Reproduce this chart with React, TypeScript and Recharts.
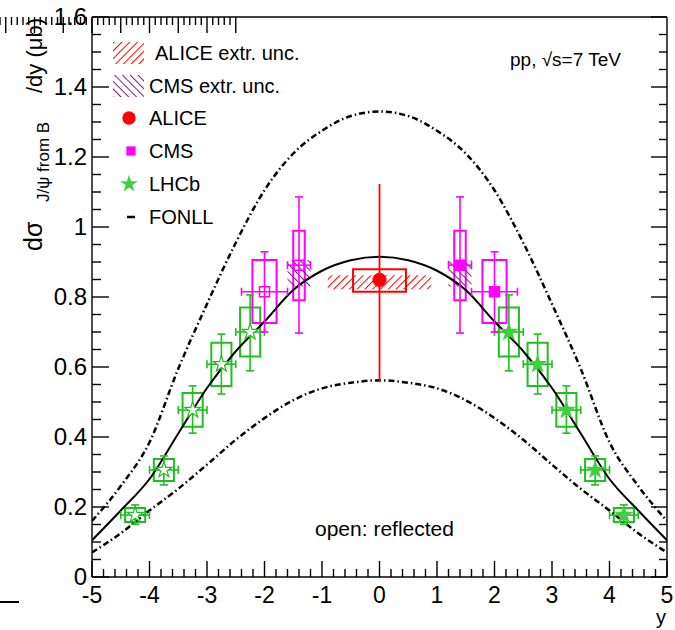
import React from 'react';
import {
  ComposedChart, Line, Scatter, XAxis, YAxis, ErrorBar, ReferenceArea, Customized, Symbols,
} from 'recharts';

const FONT = '"Liberation Sans", Arial, Helvetica, sans-serif';

// ---------- FONLL curves ----------
const fonllRapidity = [-5, -4.5, -4, -3.5, -3, -2.5, -2, -1.5, -1, -0.5, 0, 0.5, 1, 1.5, 2, 2.5, 3, 3.5, 4, 4.5, 5];
const fonllCentral = [0.105, 0.19, 0.28, 0.41, 0.54, 0.645, 0.73, 0.82, 0.875, 0.905, 0.915, 0.905, 0.875, 0.82, 0.73, 0.645, 0.54, 0.41, 0.28, 0.19, 0.105];
const fonllUpper = [0.16, 0.26, 0.385, 0.595, 0.78, 0.955, 1.105, 1.21, 1.275, 1.317, 1.33, 1.317, 1.275, 1.21, 1.105, 0.955, 0.78, 0.595, 0.385, 0.26, 0.16];
const fonllLower = [0.07, 0.125, 0.19, 0.252, 0.321, 0.392, 0.454, 0.505, 0.539, 0.555, 0.562, 0.555, 0.539, 0.505, 0.454, 0.392, 0.321, 0.252, 0.19, 0.125, 0.07];

// ---------- LHCb ----------
const lhcbRapidity = [2.25, 2.75, 3.25, 3.75, 4.25];
const lhcbRapidityReflected = [-2.25, -2.75, -3.25, -3.75, -4.25];
const lhcbValue = [0.70, 0.608, 0.477, 0.306, 0.177];
const lhcbErrLow = [0.589, 0.523, 0.411, 0.263, 0.151];
const lhcbErrHigh = [0.806, 0.694, 0.546, 0.346, 0.206];
const lhcbSysLow = [0.63, 0.546, 0.429, 0.274, 0.157];
const lhcbSysHigh = [0.77, 0.669, 0.526, 0.337, 0.197];
const lhcbBinHalf = [0.25, 0.25, 0.25, 0.25, 0.25];
const lhcbBoxHalf = [0.175, 0.175, 0.175, 0.175, 0.175];

// ---------- CMS ----------
const cmsRapidity = [1.4, 2.0];
const cmsRapidityReflected = [-1.4, -2.0];
const cmsValue = [0.891, 0.815];
const cmsErrLow = [0.697, 0.70];
const cmsErrHigh = [1.086, 0.929];
const cmsSysLow = [0.791, 0.726];
const cmsSysHigh = [0.989, 0.906];
const cmsBinHalf = [0.2, 0.4];
const cmsBoxHalf = [0.1, 0.21];
const cmsExtrLow = [0.83];
const cmsExtrHigh = [0.905];
const cmsExtrXHalf = [0.2];
const cmsExtrCenter = [1.4];

// ---------- ALICE ----------
const aliceRapidity = [0];
const aliceValue = [0.849];
const aliceErrLow = [0.557];
const aliceErrHigh = [1.123];
const aliceSysLow = [0.815];
const aliceSysHigh = [0.879];
const aliceBoxHalf = [0.46];
const aliceExtrLow = [0.822];
const aliceExtrHigh = [0.862];
const aliceExtrXHalf = [0.9];

// ---------- axes ----------
const xTickLabels = [-5, -4, -3, -2, -1, 0, 1, 2, 3, 4, 5];
const yTickLabels = [0, 0.2, 0.4, 0.6, 0.8, 1, 1.2, 1.4, 1.6];
const xMinorPerMajor = 5;
const yMinorPerMajor = 4;

const withMinor = (majors: number[], n: number) => {
  const out: number[] = [];
  for (let i = 0; i < majors.length; i++) {
    out.push(majors[i]);
    if (i < majors.length - 1) {
      const step = (majors[i + 1] - majors[i]) / n;
      for (let k = 1; k < n; k++) out.push(+(majors[i] + k * step).toFixed(4));
    }
  }
  return out;
};
const xTicks = withMinor(xTickLabels, xMinorPerMajor);
const yTicks = withMinor(yTickLabels, yMinorPerMajor);
const isMajorX = (v: number) => xTickLabels.some((t) => Math.abs(t - v) < 1e-6);
const isMajorY = (v: number) => yTickLabels.some((t) => Math.abs(t - v) < 1e-6);

const chartRows = fonllRapidity.map((x, i) => ({
  x, central: fonllCentral[i], upper: fonllUpper[i], lower: fonllLower[i],
}));

const buildPoints = (xs: number[], ys: number[], lo: number[], hi: number[], ex: number[]) =>
  xs.map((x, i) => ({ x, y: ys[i], ey: [ys[i] - lo[i], hi[i] - ys[i]], ex: ex[i] }));

const lhcbPts = buildPoints(lhcbRapidity, lhcbValue, lhcbErrLow, lhcbErrHigh, lhcbBinHalf);
const lhcbPtsRefl = buildPoints(lhcbRapidityReflected, lhcbValue, lhcbErrLow, lhcbErrHigh, lhcbBinHalf);
const cmsPts = buildPoints(cmsRapidity, cmsValue, cmsErrLow, cmsErrHigh, cmsBinHalf);
const cmsPtsRefl = buildPoints(cmsRapidityReflected, cmsValue, cmsErrLow, cmsErrHigh, cmsBinHalf);
const alicePts = buildPoints(aliceRapidity, aliceValue, aliceErrLow, aliceErrHigh, [0]);

const GREEN = '#1fbf1f';
const GREEN_FILL = '#3fcf3f';
const MAGENTA = '#ff00ff';
const RED = '#ff0000';
const PURPLE = '#7a1a7e';

const LW = 1.4;

const BottomTick = (p: any) => {
  const { x, y, payload } = p;
  const major = isMajorX(payload.value);
  return (
    <g>
      <line x1={x} x2={x} y1={y} y2={y - (major ? 16 : 8)} stroke="#000" strokeWidth={LW} />
      {major && (
        <text x={x} y={y + 26} textAnchor="middle" fontSize={23} fontFamily={FONT} fill="#000">
          {String(payload.value)}
        </text>
      )}
    </g>
  );
};
const TopTick = (p: any) => {
  const { x, y, payload } = p;
  const major = isMajorX(payload.value);
  return <line x1={x} x2={x} y1={y} y2={y + (major ? 16 : 8)} stroke="#000" strokeWidth={LW} />;
};
const LeftTick = (p: any) => {
  const { x, y, payload } = p;
  const major = isMajorY(payload.value);
  return (
    <g>
      <line x1={x} x2={x + (major ? 17 : 9)} y1={y} y2={y} stroke="#000" strokeWidth={LW} />
      {major && (
        <text x={x - 5} y={y + 8} textAnchor="end" fontSize={24} fontFamily={FONT} fill="#000">
          {String(Math.round(payload.value * 10) / 10)}
        </text>
      )}
    </g>
  );
};
const RightTick = (p: any) => {
  const { x, y, payload } = p;
  const major = isMajorY(payload.value);
  return <line x1={x} x2={x - (major ? 16 : 8)} y1={y} y2={y} stroke="#000" strokeWidth={LW} />;
};

const starShape = (filled: boolean) => (p: any) => (
  <Symbols cx={p.cx} cy={p.cy} type="star" size={80} sizeType="area"
    fill={filled ? GREEN_FILL : '#ffffff'} stroke={filled ? GREEN_FILL : GREEN} strokeWidth={1.2} />
);
const squareShape = (filled: boolean) => (p: any) => (
  <Symbols cx={p.cx} cy={p.cy} type="square" size={100} sizeType="area"
    fill={filled ? MAGENTA : 'none'} stroke={MAGENTA} strokeWidth={1.5} />
);
const circleShape = (p: any) => (
  <Symbols cx={p.cx} cy={p.cy} type="circle" size={140} sizeType="area" fill={RED} stroke={RED} />
);

const legendItems = [
  { label: 'ALICE extr. unc.', kind: 'aliceHatch' },
  { label: 'CMS extr. unc.', kind: 'cmsHatch' },
  { label: 'ALICE', kind: 'circle' },
  { label: 'CMS', kind: 'square' },
  { label: 'LHCb', kind: 'star' },
  { label: 'FONLL', kind: 'dash' },
];
const legendRowY = [53, 86, 118, 151, 184, 217];

const Annotations = () => (
  <g fontFamily={FONT} fill="#000">
    {legendItems.map((it, i) => {
      const cy = legendRowY[i];
      const cx = 129;
      let icon: any = null;
      if (it.kind === 'aliceHatch') icon = <rect x={113} y={cy - 11} width={31} height={22} fill="url(#hatchAlice)" />;
      if (it.kind === 'cmsHatch') icon = <rect x={113} y={cy - 11} width={31} height={22} fill="url(#hatchCms)" />;
      if (it.kind === 'circle') icon = <Symbols cx={cx} cy={cy} type="circle" size={140} sizeType="area" fill={RED} />;
      if (it.kind === 'square') icon = <Symbols cx={cx + 2} cy={cy} type="square" size={85} sizeType="area" fill={MAGENTA} />;
      if (it.kind === 'star') icon = <Symbols cx={cx} cy={cy} type="star" size={95} sizeType="area" fill={GREEN_FILL} />;
      if (it.kind === 'dash') icon = <line x1={127} x2={135} y1={cy} y2={cy} stroke="#000" strokeWidth={2.5} />;
      return (
        <g key={it.label}>
          {icon}
          <text x={i === 0 ? 155 : 149} y={cy + 7} fontSize={20} fontFamily={FONT}>{it.label}</text>
        </g>
      );
    })}
    <text x={510} y={66} fontSize={19} fontFamily={FONT}>pp, √s=7 TeV</text>
    <text x={315} y={536} fontSize={21} fontFamily={FONT}>open: reflected</text>
    <text x={666} y={624} textAnchor="end" fontSize={20} fontFamily={FONT}>y</text>
    <text transform="translate(42,0) rotate(-90)" fontSize={23} fontFamily={FONT}>
      <tspan x={-251} fontSize={25}>dσ</tspan>
      <tspan x={-202} dy={7} fontSize={17}>J/ψ from B</tspan>
      <tspan x={-93} dy={-7} fontSize={22}>/dy (μb)</tspan>
    </text>
    <line x1={0} x2={19} y1={602} y2={602} stroke="#000" strokeWidth={2} />
  </g>
);

export default function App() {
  return (
    <div style={{ position: 'absolute', left: 0, top: 0, width: 675, height: 630, background: '#fff' }}>
      <ComposedChart width={675} height={630} data={chartRows}
        margin={{ top: 16, right: 7, bottom: 23, left: 32 }}>
        <defs>
          <pattern id="hatchAlice" patternUnits="userSpaceOnUse" width={5.5} height={5.5} patternTransform="rotate(45)">
            <line x1={0} y1={0} x2={0} y2={5.5} stroke={RED} strokeWidth={2} />
          </pattern>
          <pattern id="hatchCms" patternUnits="userSpaceOnUse" width={5.5} height={5.5} patternTransform="rotate(-45)">
            <line x1={0} y1={0} x2={0} y2={5.5} stroke={PURPLE} strokeWidth={2} />
          </pattern>
        </defs>
        <XAxis dataKey="x" type="number" domain={[-5, 5]} ticks={xTicks} interval={0}
          allowDataOverflow height={30} tickSize={0} tickMargin={0} tickLine={false}
          axisLine={{ stroke: '#000', strokeWidth: LW }} tick={<BottomTick />} />
        <XAxis xAxisId="top" orientation="top" type="number" domain={[-5, 5]} ticks={xTicks} interval={0}
          allowDataOverflow height={1} tickSize={0} tickMargin={0} tickLine={false}
          axisLine={{ stroke: '#000', strokeWidth: LW }} tick={<TopTick />} />
        <YAxis type="number" domain={[0, 1.6]} ticks={yTicks} interval={0} allowDataOverflow
          width={60} tickSize={0} tickMargin={0} tickLine={false}
          axisLine={{ stroke: '#000', strokeWidth: LW }} tick={<LeftTick />} />
        <YAxis yAxisId="right" orientation="right" type="number" domain={[0, 1.6]} ticks={yTicks} interval={0}
          allowDataOverflow width={1} tickSize={0} tickMargin={0} tickLine={false}
          axisLine={{ stroke: '#000', strokeWidth: LW }} tick={<RightTick />} />

        {/* systematic boxes */}
        {[...lhcbRapidity, ...lhcbRapidityReflected].map((x, j) => {
          const i = j % lhcbRapidity.length;
          return (
            <ReferenceArea key={'lb' + j} x1={x - lhcbBoxHalf[i]} x2={x + lhcbBoxHalf[i]}
              y1={lhcbSysLow[i]} y2={lhcbSysHigh[i]} fill="none" fillOpacity={0} stroke={GREEN} strokeWidth={2} />
          );
        })}
        {[...cmsRapidity, ...cmsRapidityReflected].map((x, j) => {
          const i = j % cmsRapidity.length;
          return (
            <ReferenceArea key={'cb' + j} x1={x - cmsBoxHalf[i]} x2={x + cmsBoxHalf[i]}
              y1={cmsSysLow[i]} y2={cmsSysHigh[i]} fill="none" fillOpacity={0} stroke={MAGENTA} strokeWidth={2} />
          );
        })}
        {aliceRapidity.map((x, i) => (
          <ReferenceArea key={'alb' + i} x1={x - aliceBoxHalf[i]} x2={x + aliceBoxHalf[i]}
            y1={aliceSysLow[i]} y2={aliceSysHigh[i]} fill="none" fillOpacity={0} stroke={RED} strokeWidth={2} />
        ))}

        {/* extrapolation uncertainties (hatched) */}
        {aliceRapidity.map((x, i) => (
          <ReferenceArea key={'ah' + i} x1={x - aliceExtrXHalf[i]} x2={x + aliceExtrXHalf[i]}
            y1={aliceExtrLow[i]} y2={aliceExtrHigh[i]} fill="url(#hatchAlice)" fillOpacity={1} stroke="none" />
        ))}
        {cmsExtrCenter.map((x, i) => (
          <ReferenceArea key={'ch' + i} x1={x - cmsExtrXHalf[i]} x2={x + cmsExtrXHalf[i]}
            y1={cmsExtrLow[i]} y2={cmsExtrHigh[i]} fill="url(#hatchCms)" fillOpacity={1} stroke="none" />
        ))}
        {cmsExtrCenter.map((x, i) => (
          <ReferenceArea key={'chr' + i} x1={-x - cmsExtrXHalf[i]} x2={-x + cmsExtrXHalf[i]}
            y1={cmsExtrLow[i]} y2={cmsExtrHigh[i]} fill="url(#hatchCms)" fillOpacity={1} stroke="none" />
        ))}

        {/* FONLL */}
        <Line dataKey="upper" type="monotone" stroke="#000" strokeWidth={2.5} strokeDasharray="6 3 1.5 3"
          dot={false} activeDot={false} isAnimationActive={false} />
        <Line dataKey="lower" type="monotone" stroke="#000" strokeWidth={2.5} strokeDasharray="6 3 1.5 3"
          dot={false} activeDot={false} isAnimationActive={false} />
        <Line dataKey="central" type="monotone" stroke="#000" strokeWidth={2}
          dot={false} activeDot={false} isAnimationActive={false} />

        {/* data points */}
        <Scatter data={lhcbPtsRefl} dataKey="y" shape={starShape(false)} isAnimationActive={false}>
          <ErrorBar dataKey="ey" direction="y" width={4} stroke={GREEN} strokeWidth={1.6} />
          <ErrorBar dataKey="ex" direction="x" width={4} stroke={GREEN} strokeWidth={1.6} />
        </Scatter>
        <Scatter data={lhcbPts} dataKey="y" shape={starShape(true)} isAnimationActive={false}>
          <ErrorBar dataKey="ey" direction="y" width={4} stroke={GREEN} strokeWidth={1.6} />
          <ErrorBar dataKey="ex" direction="x" width={4} stroke={GREEN} strokeWidth={1.6} />
        </Scatter>
        <Scatter data={cmsPtsRefl} dataKey="y" shape={squareShape(false)} isAnimationActive={false}>
          <ErrorBar dataKey="ey" direction="y" width={4} stroke={MAGENTA} strokeWidth={1.6} />
          <ErrorBar dataKey="ex" direction="x" width={4} stroke={MAGENTA} strokeWidth={1.6} />
        </Scatter>
        <Scatter data={cmsPts} dataKey="y" shape={squareShape(true)} isAnimationActive={false}>
          <ErrorBar dataKey="ey" direction="y" width={4} stroke={MAGENTA} strokeWidth={1.6} />
          <ErrorBar dataKey="ex" direction="x" width={4} stroke={MAGENTA} strokeWidth={1.6} />
        </Scatter>
        <Scatter data={alicePts} dataKey="y" shape={circleShape} isAnimationActive={false}>
          <ErrorBar dataKey="ey" direction="y" width={0} stroke={RED} strokeWidth={1.8} />
        </Scatter>

        <Customized component={<Annotations />} />
      </ComposedChart>
    </div>
  );
}
